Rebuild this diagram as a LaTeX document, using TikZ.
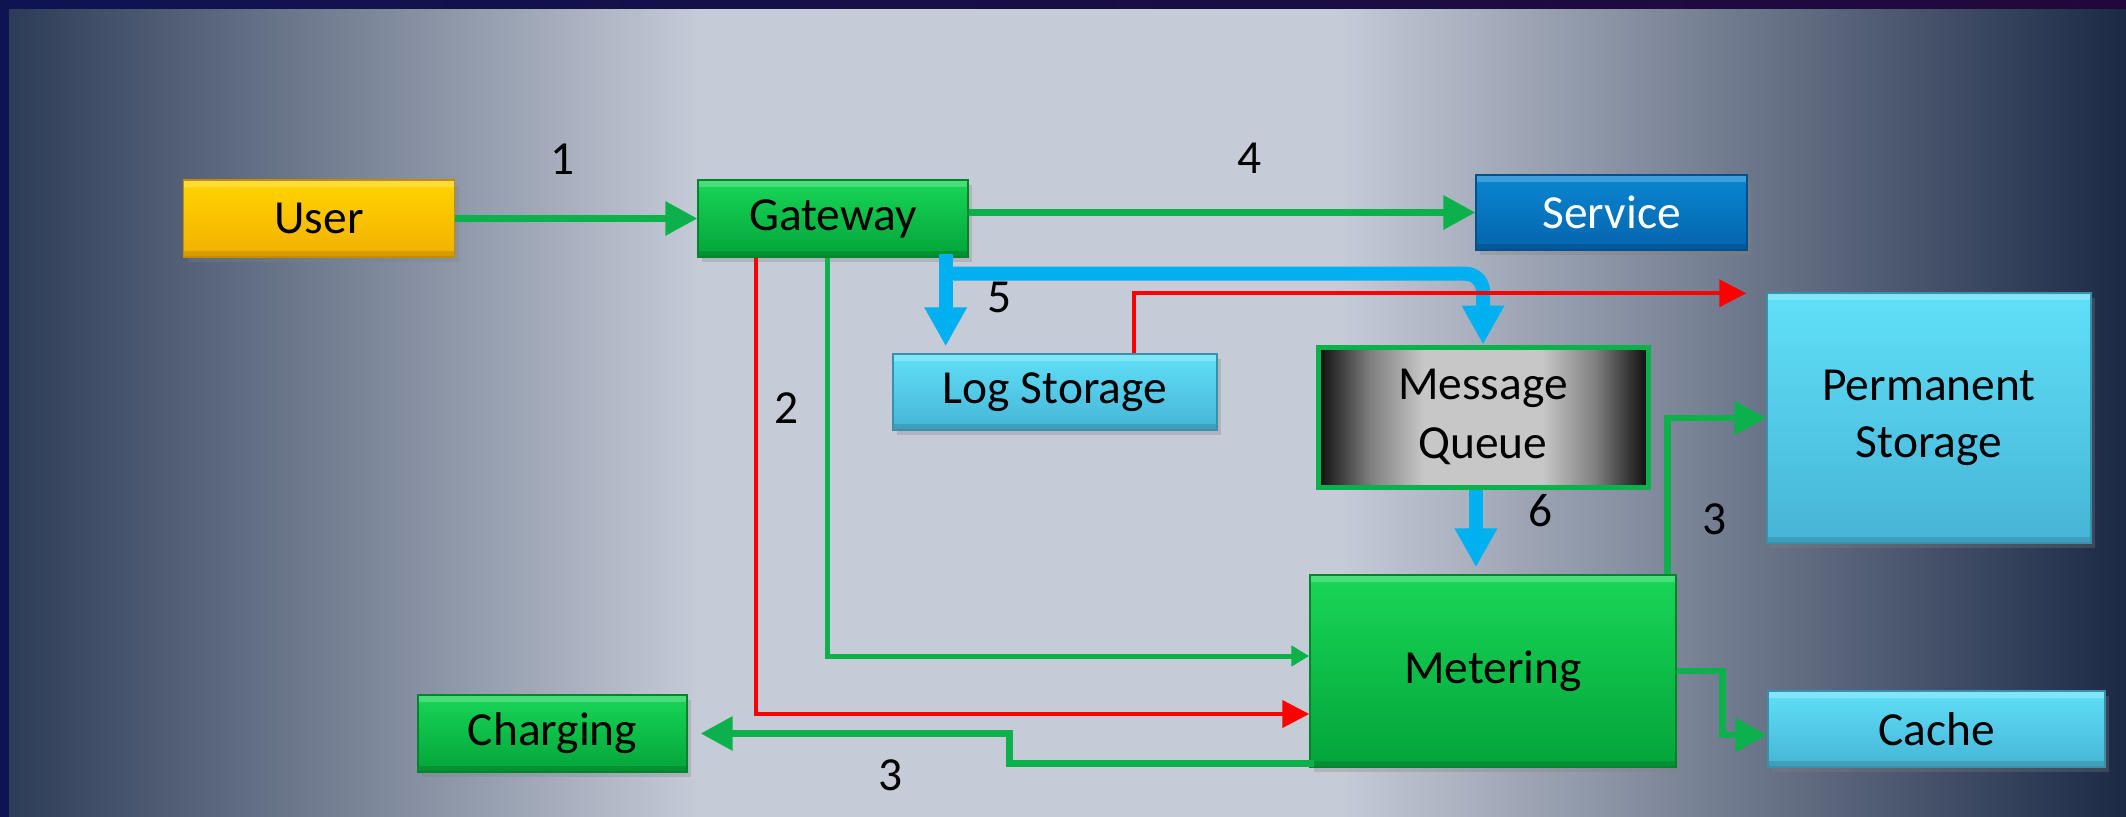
\documentclass[tikz,border=0pt]{standalone}
\usepackage{fontspec}
\setmainfont{Carlito}
\usetikzlibrary{arrows.meta,calc,shadows}

\definecolor{bgdarkL}{HTML}{2B3A55}
\definecolor{bglight}{HTML}{C5CBD7}
\definecolor{bgdarkR}{HTML}{1B2945}
\definecolor{edgeblue}{HTML}{0E1452}
\definecolor{edgepurple}{HTML}{22083A}
\definecolor{arrgreen}{HTML}{0DB14B}
\definecolor{arrred}{HTML}{FF0000}
\definecolor{arrblue}{HTML}{00B0F0}
\definecolor{greenT}{HTML}{18D656}
\definecolor{greenB}{HTML}{03A43A}
\definecolor{yellowT}{HTML}{FFD400}
\definecolor{yellowB}{HTML}{F2B000}
\definecolor{blueT}{HTML}{0A86D2}
\definecolor{blueB}{HTML}{0464AC}
\definecolor{cyanT}{HTML}{60E0F8}
\definecolor{cyanB}{HTML}{46B4D6}

\pgfdeclarehorizontalshading{queueshade}{100bp}{color(0bp)=(black!95); color(25bp)=(black!95); color(33bp)=(black!50); color(41bp)=(black!22); color(59bp)=(black!22); color(67bp)=(black!50); color(75bp)=(black!95); color(100bp)=(black!95)}

\tikzset{
    box/.style={rectangle, inner sep=0pt, align=center,
        font=\fontsize{13.5}{16.2}\selectfont,
        drop shadow={opacity=0.3, shadow xshift=0.04cm, shadow yshift=-0.05cm},
        path picture={
            \fill[white, opacity=0.22] (path picture bounding box.north west) rectangle ([yshift=-0.07cm]path picture bounding box.north east);
            \fill[black, opacity=0.12] ([yshift=0.06cm]path picture bounding box.south west) rectangle (path picture bounding box.south east);
        }},
    greenbox/.style={box, top color=greenT, bottom color=greenB, draw=greenB!80!black, line width=0.4pt},
    yellowbox/.style={box, top color=yellowT, bottom color=yellowB, draw=yellowB!80!black, line width=0.4pt},
    bluebox/.style={box, top color=blueT, bottom color=blueB, draw=blueB!80!black, line width=0.4pt, text=white},
    cyanbox/.style={box, top color=cyanT, bottom color=cyanB, draw=cyanB!80!black, line width=0.4pt},
    queuebox/.style={rectangle, inner sep=0pt, align=center,
        font=\fontsize{13.5}{16.6}\selectfont,
        shading=queueshade, draw=arrgreen, line width=0.05cm},
    num/.style={inner sep=0pt, font=\fontsize{13.5}{16.2}\selectfont},
    gline/.style={color=arrgreen, line width=0.065cm, -{Triangle[length=0.32cm,width=0.33cm]}},
    gthin/.style={color=arrgreen, line width=0.05cm, -{Triangle[length=0.18cm,width=0.2cm]}},
    rline/.style={color=arrred, line width=0.04cm, -{Triangle[length=0.27cm,width=0.27cm]}},
    bline/.style={color=arrblue, line width=0.14cm, -{Triangle[length=0.39cm,width=0.40cm]}},
}

\begin{document}
\begin{tikzpicture}
    \useasboundingbox (0,0) rectangle (21.26,-8.17);
    \fill[left color=bgdarkL, right color=bglight] (0,0) rectangle (7,-8.17);
    \fill[bglight] (6.99,0) rectangle (13.41,-8.17);
    \fill[left color=bglight, right color=bgdarkR] (13.4,0) rectangle (21.26,-8.17);
    \fill[left color=edgeblue, right color=edgepurple] (0,0) rectangle (21.26,-0.08);
    \fill[edgeblue] (0,0) rectangle (0.09,-8.17);

    \node[yellowbox, minimum width=2.71cm, minimum height=0.77cm] (user) at (3.19,-2.185) {User};
    \node[greenbox, minimum width=2.70cm, minimum height=0.77cm] (gateway) at (8.33,-2.185) {Gateway};
    \node[bluebox, minimum width=2.71cm, minimum height=0.75cm] (service) at (16.115,-2.125) {Service};
    \node[cyanbox, minimum width=3.24cm, minimum height=0.76cm] (logst) at (10.55,-3.92) {Log Storage};
    \node[queuebox, minimum width=3.30cm, minimum height=1.40cm] (mq) at (14.83,-4.17) {Message\\Queue};
    \node[cyanbox, minimum width=3.24cm, minimum height=2.50cm] (perm) at (19.29,-4.18) {Permanent\\Storage};
    \node[greenbox, minimum width=3.66cm, minimum height=1.92cm] (meter) at (14.93,-6.71) {Metering};
    \node[greenbox, minimum width=2.69cm, minimum height=0.77cm] (charging) at (5.525,-7.335) {Charging};
    \node[cyanbox, minimum width=3.37cm, minimum height=0.76cm] (cache) at (19.365,-7.29) {Cache};

    \coordinate (gw5) at ($(gateway.south east)+(-0.23,0.04)$);
    \draw[gline] (user) -- (gateway);
    \draw[gline] (gateway.east |- service.west) -- (service.west);
    \draw[bline, shorten >=0.07cm] (gw5) -- (gw5 |- logst.north);
    \draw[bline, rounded corners=5pt] ($(gw5)+(0,-0.2)$) -| (mq.north);
    \draw[rline] ($(logst.north)+(0.79,0)$) |- ($(perm.north west)+(-0.2,-0.01)$);
    \draw[rline] ($(gateway.south west)+(0.59,0)$) |- ($(meter.west)+(0,-0.43)$);
    \draw[gthin] ($(gateway.south)+(-0.06,0)$) |- ($(meter.west)+(0,0.15)$);
    \draw[bline, shorten >=0.07cm] ($(mq.south)+(-0.07,0)$) coordinate (q6) -- (q6 |- meter.north);
    \draw[gline] ($(meter.north east)+(-0.09,0)$) |- (perm.west);
    \draw[gline] (meter.east) -- ++(0.46,0) |- ($(cache.west)+(0,-0.06)$);
    \draw[gline, shorten >=0.13cm] ($(meter.south west)+(0.05,0.04)$) -- ++(-3.05,0) |- (charging.east);

    \node[num] (l1) at (5.63,-1.59) {1};
    \node[num] (l4) at (12.50,-1.58) {4};
    \node[num] (l5) at (10.00,-2.97) {5};
    \node[num] (l2) at (7.87,-4.08) {2};
    \node[num] (l6) at (15.41,-5.11) {6};
    \node[num] (l3a) at (17.15,-5.19) {3};
    \node[num] (l3b) at (8.91,-7.75) {3};
\end{tikzpicture}
\end{document}
